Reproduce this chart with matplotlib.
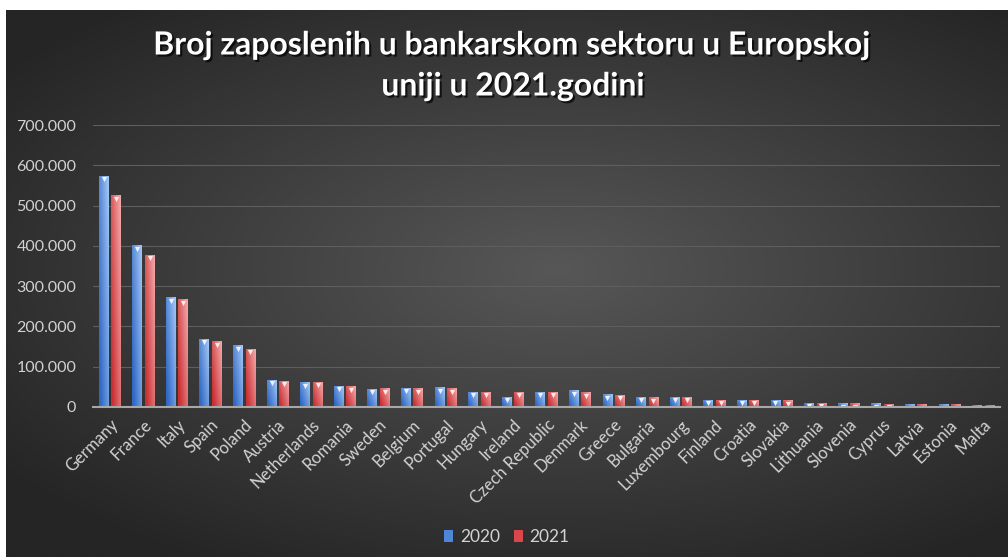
import numpy as np
import matplotlib.pyplot as plt
import matplotlib.patheffects as pe
import matplotlib.transforms as mtransforms
from matplotlib.patches import Patch
from matplotlib.colors import to_rgb

# ---- data ----
countries = ['Germany', 'France', 'Italy', 'Spain', 'Poland', 'Austria', 'Netherlands',
             'Romania', 'Sweden', 'Belgium', 'Portugal', 'Hungary', 'Ireland',
             'Czech Republic', 'Denmark', 'Greece', 'Bulgaria', 'Luxembourg', 'Finland',
             'Croatia', 'Slovakia', 'Lithuania', 'Slovenia', 'Cyprus', 'Latvia',
             'Estonia', 'Malta']
emp_2020 = [574000, 402000, 272000, 170000, 153000, 68000, 61000, 53000, 45000, 48000,
            49000, 38000, 26000, 38000, 41000, 32000, 26000, 26000, 18000, 18000,
            18000, 11000, 9000, 9000, 6500, 6500, 5500]
emp_2021 = [526000, 378000, 267000, 163000, 144000, 65000, 62000, 51000, 47000, 47000,
            47000, 38000, 38000, 38000, 37000, 30000, 24000, 26000, 18000, 18000,
            17000, 10500, 9000, 8500, 6500, 6500, 6000]
series_names = ['2020', '2021']
yticks = [0, 100000, 200000, 300000, 400000, 500000, 600000, 700000]

W, H = 1008, 557
fig = plt.figure(figsize=(W / 100, H / 100), dpi=100)
fig.patch.set_facecolor('white')
plt.rcParams['font.family'] = ['Lato', 'DejaVu Sans']

# ---- dark radial background ----
bg = fig.add_axes([6 / W, 0, 1 - 6 / W, 1 - 10 / H], zorder=-10)
gx, gy = np.meshgrid(np.linspace(-1, 1, 400), np.linspace(-1, 1, 220))
r = np.clip(np.sqrt(((gx - 0.1) * 0.9) ** 2 + ((gy + 0.05) * 1.0) ** 2) / 1.25, 0, 1)
inner, outer = np.array(to_rgb('#575757')), np.array(to_rgb('#252525'))
img = inner[None, None, :] * (1 - r[..., None]) + outer[None, None, :] * r[..., None]
bg.imshow(img, aspect='auto', extent=[0, 1, 0, 1], interpolation='bilinear')
bg.axis('off')

# ---- main axes ----
ax = fig.add_axes([93 / W, (H - 407) / H, 907 / W, 282 / H])
ax.set_facecolor('none')
x = np.arange(len(countries))
bw = 0.29
off = 0.185


def gradient_bars(xpos, vals, dark, light):
    bars = ax.bar(xpos, vals, width=bw, color=dark, zorder=3, linewidth=0)
    d, l = np.array(to_rgb(dark)), np.array(to_rgb(light))
    tx, ty = np.meshgrid(np.linspace(0, 1, 16), np.linspace(0, 1, 16))
    t = np.clip(0.65 * tx + 0.45 * ty - 0.1, 0, 1)
    g = d[None, None, :] * (1 - t[..., None]) + l[None, None, :] * t[..., None]
    for b in bars:
        x0, w, h = b.get_x(), b.get_width(), b.get_height()
        im = ax.imshow(g, extent=[x0, x0 + w, 0, h], origin='lower', aspect='auto',
                       interpolation='bilinear', zorder=4)
        im.set_clip_path(b)
    return bars


gradient_bars(x - off, emp_2020, '#2f68c4', '#a3c6f6')
gradient_bars(x + off, emp_2021, '#c92f33', '#f4a8a8')

# small bevel triangles on top of the bars
shift = mtransforms.ScaledTranslation(0, -2.5 / 72, fig.dpi_scale_trans)
ax.scatter(x - off, emp_2020, marker='v', s=14, color='#eef4ff', zorder=5,
           linewidths=0, transform=ax.transData + shift)
ax.scatter(x + off, emp_2021, marker='v', s=14, color='#ffeaea', zorder=5,
           linewidths=0, transform=ax.transData + shift)

ax.set_xlim(-0.5, len(countries) - 0.5)
ax.set_ylim(0, 700000)
ax.set_yticks(yticks)
ax.set_yticklabels(['{:,.0f}'.format(v).replace(',', '.') for v in yticks])
ax.yaxis.grid(True, color='#5e5e5e', linewidth=0.8, zorder=0)
ax.set_axisbelow(True)
for s in ['left', 'right', 'top']:
    ax.spines[s].set_visible(False)
ax.spines['bottom'].set_color('#a8a8a8')
ax.spines['bottom'].set_linewidth(1.5)
ax.spines['bottom'].set_zorder(6)
ax.tick_params(axis='both', length=0, colors='#d2d2d2')
ax.tick_params(axis='y', pad=12, labelsize=11.5)
ax.set_xticks(x)
ax.set_xticklabels(countries, rotation=45, ha='right', rotation_mode='anchor')
ax.tick_params(axis='x', pad=7, labelsize=12)

# ---- title ----
shadow = [pe.SimplePatchShadow(offset=(1.5, -1.5), shadow_rgbFace='black', alpha=0.7),
          pe.Normal()]
fig.text(0.509, 1 - 45 / H, 'Broj zaposlenih u bankarskom sektoru u Europskoj',
         ha='center', va='center', color='white', fontsize=23, fontweight='bold',
         path_effects=shadow)
fig.text(0.509, 1 - 86 / H, 'uniji u 2021.godini', ha='center', va='center',
         color='white', fontsize=23, fontweight='bold', path_effects=shadow)

# ---- legend ----
handles = [Patch(facecolor='#4f86d8', edgecolor='none'),
           Patch(facecolor='#d9474a', edgecolor='none')]
fig.legend(handles, series_names, loc='center', bbox_to_anchor=(0.503, 20 / H), ncol=2,
           frameon=False, labelcolor='#d2d2d2', fontsize=12.5, handlelength=0.5,
           handleheight=0.7, handletextpad=0.4, columnspacing=0.8)

fig.savefig('out.png', dpi=100, facecolor=fig.get_facecolor())
